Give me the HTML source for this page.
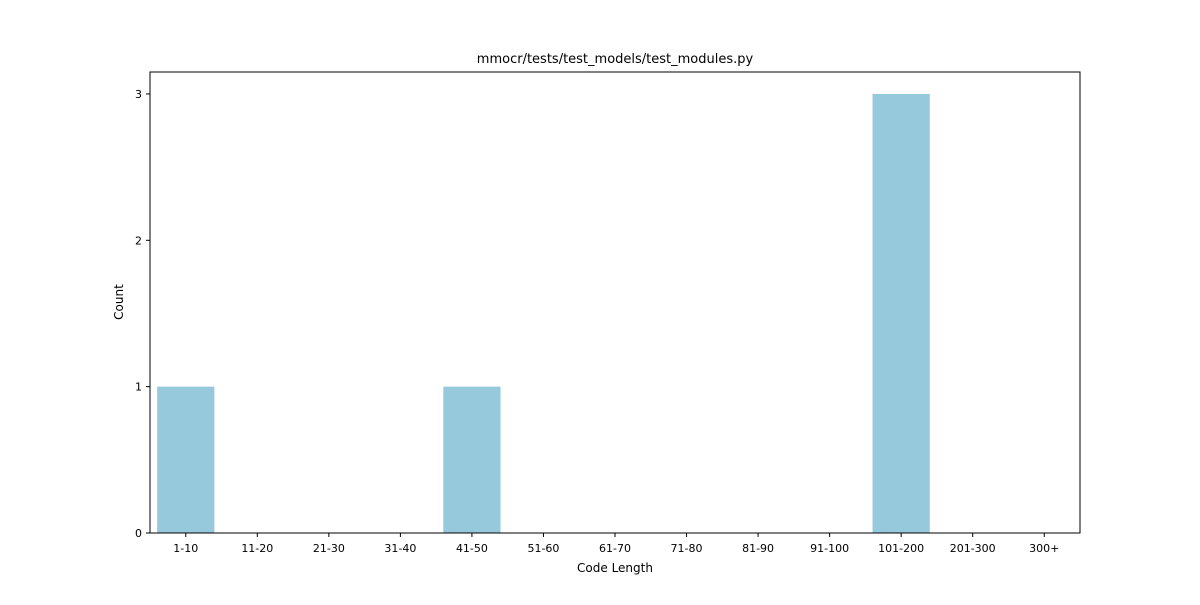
<!DOCTYPE html>
<html><head><meta charset="utf-8"><style>
body{margin:0;background:#fff;}
svg text{font-family:"DejaVu Sans","Liberation Sans",sans-serif;fill:#000;}
</style></head><body>
<svg id="chart" width="1200" height="600" xmlns="http://www.w3.org/2000/svg">
<rect width="1200" height="600" fill="#fff"/>
<text x="615" y="63" font-size="13" text-anchor="middle">mmocr/tests/test_models/test_modules.py</text>
<g id="bars"></g>
<g id="xticks"></g>
<g id="yticks"></g>
<rect x="150" y="72" width="930" height="461" fill="none" stroke="#000" stroke-width="1"/>
<text x="615" y="572" font-size="12" text-anchor="middle">Code Length</text>
<text x="123" y="302" font-size="12" text-anchor="middle" transform="rotate(-90 123 302)">Count</text>
</svg>
<script>
const categories=["1-10","11-20","21-30","31-40","41-50","51-60","61-70","71-80","81-90","91-100","101-200","201-300","300+"];
const counts=[1,0,0,0,1,0,0,0,0,0,3,0,0];
const yTickLabels=[0,1,2,3];
const ns="http://www.w3.org/2000/svg";
const L=150,R=1080,B=533,T=72,yMax=3.15;
const band=(R-L)/categories.length;
const xC=i=>L+band*(i+0.5);
const y=v=>B-(B-T)*v/yMax;
function mk(t,a){const e=document.createElementNS(ns,t);for(const k in a)e.setAttribute(k,a[k]);return e;}
const gb=document.getElementById('bars'),gx=document.getElementById('xticks'),gy=document.getElementById('yticks');
categories.forEach((c,i)=>{
  const r=mk('rect',{x:xC(i)-band*0.4,y:y(counts[i]),width:band*0.8,height:B-y(counts[i]),fill:'#96c9dc'});
  
  
  gb.appendChild(r);
  const tk=mk('line',{x1:xC(i),x2:xC(i),y1:B,y2:B+4,stroke:'#000'});
  
  
  gx.appendChild(tk);
  const t=mk('text',{x:xC(i),y:B+19,'font-size':11,'text-anchor':'middle'});
  t.textContent=c;
  
  
  gx.appendChild(t);
});
yTickLabels.forEach(v=>{
  const tk=mk('line',{x1:L-4,x2:L,y1:y(v),y2:y(v),stroke:'#000'});
  
  
  gy.appendChild(tk);
  const t=mk('text',{x:L-8,y:y(v)+4,'font-size':11,'text-anchor':'end'});
  t.textContent=v;
  
  
  gy.appendChild(t);
});
</script>
</body></html>
